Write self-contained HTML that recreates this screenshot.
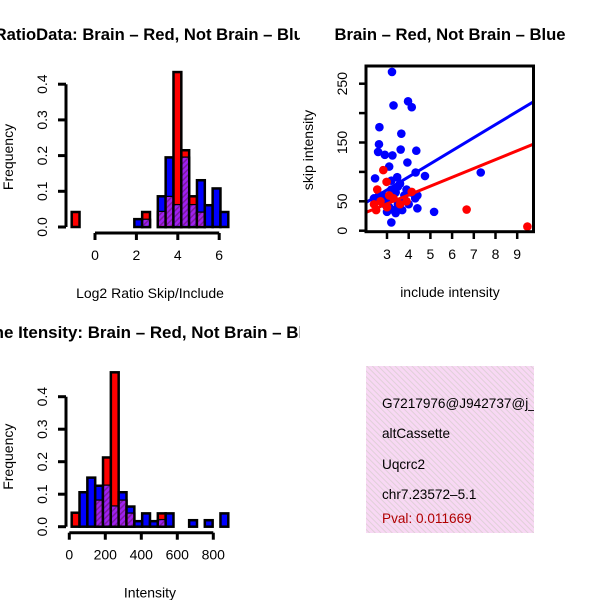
<!DOCTYPE html>
<html><head><meta charset="utf-8"><style>
body{margin:0;background:#fff}
svg{display:block;font-family:"Liberation Sans",sans-serif}
</style></head><body>
<svg id="s" width="600" height="600" viewBox="0 0 600 600" xmlns="http://www.w3.org/2000/svg">
<defs>
<clipPath id="c1"><rect x="0" y="0" width="300" height="60"/></clipPath>
<clipPath id="c3"><rect x="0" y="300" width="300" height="60"/></clipPath>
<clipPath id="cs"><rect x="366" y="66" width="167.5" height="165.7"/></clipPath>
<pattern id="hatch" width="4" height="4" patternUnits="userSpaceOnUse" patternTransform="rotate(45)">
<rect width="4" height="4" fill="#a020f0"/><rect width="1.5" height="4" fill="#7a1aa0"/></pattern>
<pattern id="pink" width="4" height="4" patternUnits="userSpaceOnUse" patternTransform="rotate(-45)">
<rect width="4" height="4" fill="#f8d8f4"/><rect width="1" height="4" fill="#e0d0d8"/></pattern>
</defs>
<text x="134" y="40" text-anchor="middle" font-size="16.5" font-weight="bold" textLength="358" lengthAdjust="spacingAndGlyphs" clip-path="url(#c1)">Log2RatioData: Brain – Red, Not Brain – Blue</text>
<text x="450" y="40" text-anchor="middle" font-size="16.5" font-weight="bold" textLength="231" lengthAdjust="spacingAndGlyphs">Brain – Red, Not Brain – Blue</text>
<text x="147" y="338" text-anchor="middle" font-size="16.5" font-weight="bold" textLength="352" lengthAdjust="spacingAndGlyphs" clip-path="url(#c3)">Gene Itensity: Brain – Red, Not Brain – Blue</text>
<rect x="366" y="366" width="168" height="167" fill="url(#pink)"/>
<text x="382" y="408" font-size="13.6">G7217976@J942737@j_at</text>
<text x="382" y="438" font-size="13.6">altCassette</text>
<text x="382" y="469" font-size="13.6">Uqcrc2</text>
<text x="382" y="499" font-size="13.6">chr7.23572–5.1</text>
<text x="382" y="523" font-size="13.6" fill="#b00000">Pval: 0.011669</text>
<rect x="534" y="366" width="66" height="167" fill="#fff"/>
</svg>
<script>
// Histogram 1 data (frequency per bin)
const ratioRed  = [0.042,0,0,0,0,0,0,0,0,0.042,0,0.042,0.084,0.434,0.215,0.086,0.04,0,0,0];
const ratioBlue = [0,0,0,0,0,0,0,0,0.022,0.02,0,0.086,0.195,0.061,0.194,0.061,0.131,0.061,0.108,0.042];
const ratioXTicks = [0,2,4,6];
const freqTicks = ["0.0","0.1","0.2","0.3","0.4"];
// Histogram 2 data
const intRed  = [0.043,0,0,0.08,0.213,0.475,0.08,0.04,0,0,0,0.041,0,0,0,0,0,0,0,0];
const intBlue = [0,0.106,0.151,0.126,0.126,0.062,0.106,0.062,0.017,0.041,0.017,0.02,0.041,0,0,0.02,0,0.02,0,0.041];
const intXTicks = [0,200,400,600,800];
// Scatter data
const blueX = [3.23,3.3,3.97,4.14,2.65,3.66,2.63,2.59,2.9,3.25,3.63,4.35,3.94,3.1,4.32,4.75,2.45,3.47,7.32,5.17,3.2,2.8,3.0,3.2,3.4,3.5,3.6,3.7,3.8,4.0,4.3,4.4,3.1,3.3,3.6,2.6,2.9,3.9,4.1,3.5,3.2,2.4,3.0,4.4,3.4,3.7];
const blueY = [270,213,220,210,176,165,147,134,129,128,138,136,116,109,99,93,89,91,99,32,14,60,55,70,65,75,80,50,60,45,55,60,40,35,38,58,45,70,65,45,85,55,32,38,30,35];
const redX = [2.83,2.98,2.55,4.14,6.67,9.47,2.4,2.7,3.0,3.3,3.6,3.9,2.5,3.1];
const redY = [103,83,70,66,36,7,45,50,40,55,45,50,35,60];
const scXTicks = [3,4,5,6,7,8,9];
const scYTicks = [0,50,150,250];
const blueFit = [2.9,22.2];
const redFit = [0.5,15.05];

const S = document.getElementById('s');
const NS = 'http://www.w3.org/2000/svg';
const FS = 14;
function mk(tag, attrs, parent){const e=document.createElementNS(NS,tag);for(const k in attrs)e.setAttribute(k,attrs[k]);(parent||S).appendChild(e);return e;}

function hist(red, blue, cfg){
  const g = mk('g',{});
  
  
  const y = v => cfg.y0 - v*cfg.perUnit;
  const bw = (cfg.x1 - cfg.x0)/red.length;
  for(let i=0;i<red.length;i++){
    const x = cfg.x0 + i*bw;
    const order = red[i] >= blue[i] ? [['red',red[i]],['blue',blue[i]]] : [['blue',blue[i]],['red',red[i]]];
    order.forEach(([col,v])=>{
      if(v<=0) return;
      const r = mk('rect',{x:x,y:y(v),width:bw,height:cfg.y0-y(v),fill:col==='red'?'#ff0000':'#0000ff',stroke:'#000','stroke-width':2.5},g);
      
      
    });
    const m = Math.min(red[i],blue[i]);
    if(m>0){
      const p = mk('rect',{x:x+1.2,y:y(m),width:bw-2.4,height:cfg.y0-y(m)-1.2,fill:'url(#hatch)'},g);
      
      
    }
  }
  const ya = mk('g',{});
  
  
  mk('line',{x1:66,x2:66,y1:y(0),y2:y(0.4),stroke:'#000','stroke-width':3},ya);
  freqTicks.forEach((t)=>{
    const v = parseFloat(t);
    mk('line',{x1:58,x2:66,y1:y(v),y2:y(v),stroke:'#000','stroke-width':3},ya);
    const tx = mk('text',{x:0,y:0,'font-size':FS,'text-anchor':'middle',transform:`translate(47,${y(v)}) rotate(-90)`},ya);
    tx.textContent = t;
  });
  const yl = mk('text',{'font-size':FS,'text-anchor':'middle',transform:`translate(13,${cfg.y0-70}) rotate(-90)`},ya);
  yl.textContent = 'Frequency';
  const xa = mk('g',{});
  
  
  const xs = v => cfg.t0px + (v - cfg.ticks[0])*cfg.pxPer;
  const ay = cfg.y0+6;
  mk('line',{x1:xs(cfg.ticks[0]),x2:xs(cfg.ticks[cfg.ticks.length-1]),y1:ay,y2:ay,stroke:'#000','stroke-width':3},xa);
  cfg.ticks.forEach(t=>{
    mk('line',{x1:xs(t),x2:xs(t),y1:ay,y2:ay+7,stroke:'#000','stroke-width':3},xa);
    const tx = mk('text',{x:xs(t),y:ay+27,'font-size':FS,'text-anchor':'middle'},xa);
    tx.textContent = t;
  });
  const xl = mk('text',{x:150,y:cfg.y0+71,'font-size':FS,'text-anchor':'middle'},xa);
  xl.textContent = cfg.xlabel;
}
hist(ratioRed, ratioBlue, {name:'ratio-histogram',y0:227,perUnit:357,x0:71.7,x1:228.3,t0px:95,pxPer:20.7,ticks:ratioXTicks,xlabel:'Log2 Ratio Skip/Include'});
hist(intRed, intBlue, {name:'intensity-histogram',y0:526.7,perUnit:325,x0:71.7,x1:228.3,t0px:69.3,pxPer:0.18,ticks:intXTicks,xlabel:'Intensity'});

const sx = v => 387 + (v-3)*21.7;
const sy = v => 230.7 - v*0.588;
const sg = mk('g',{});


const pts = mk('g',{'clip-path':'url(#cs)'},sg);
blueX.forEach((x,i)=>{
  const c = mk('circle',{cx:sx(x),cy:sy(blueY[i]),r:4.3,fill:'#0000ff'},pts);
  
  
});
redX.forEach((x,i)=>{
  const c = mk('circle',{cx:sx(x),cy:sy(redY[i]),r:4.3,fill:'#ff0000'},pts);
  
  
});
[[blueFit,'#0000ff','blue'],[redFit,'#ff0000','red']].forEach(([f,col,n])=>{
  const l = mk('line',{x1:sx(1.5),y1:sy(f[0]+f[1]*1.5),x2:sx(10.5),y2:sy(f[0]+f[1]*10.5),stroke:col,'stroke-width':3},pts);
  
  
});
mk('rect',{x:366,y:66,width:167.5,height:165.7,fill:'none',stroke:'#000','stroke-width':3},sg);
scXTicks.forEach(t=>{
  mk('line',{x1:sx(t),x2:sx(t),y1:231.7,y2:239,stroke:'#000','stroke-width':2.5},sg);
  const tx = mk('text',{x:sx(t),y:259,'font-size':FS,'text-anchor':'middle'},sg);
  tx.textContent = t;
});
[0,50,100,150,200,250].forEach(t=>{
  mk('line',{x1:359,x2:366,y1:sy(t),y2:sy(t),stroke:'#000','stroke-width':2.5},sg);
});
scYTicks.forEach(t=>{
  const tx = mk('text',{'font-size':FS,'text-anchor':'middle',transform:`translate(347,${sy(t)}) rotate(-90)`},sg);
  tx.textContent = t;
});
const sxl = mk('text',{x:450,y:297,'font-size':FS,'text-anchor':'middle'},sg);
sxl.textContent = 'include intensity';
const syl = mk('text',{'font-size':FS,'text-anchor':'middle',transform:'translate(313,150) rotate(-90)'},sg);
syl.textContent = 'skip intensity';
</script>
</body></html>
